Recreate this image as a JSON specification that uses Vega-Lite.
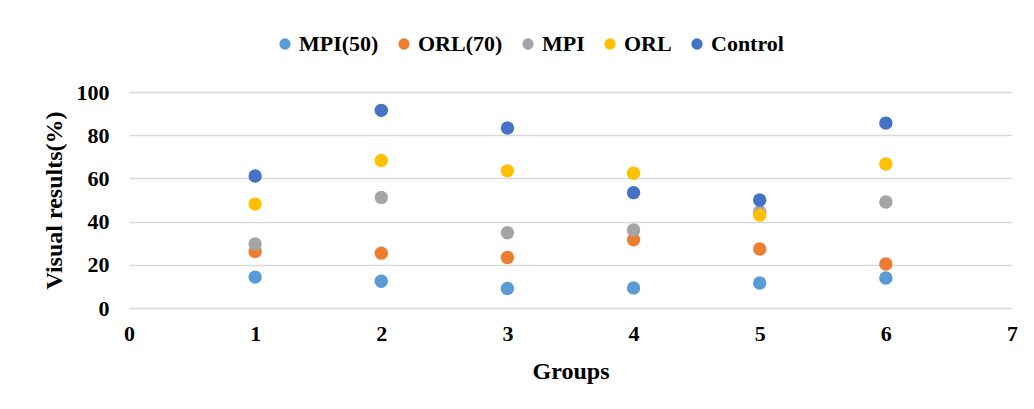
{
  "$schema": "https://vega.github.io/schema/vega-lite/v6.json",
  "width": 883,
  "height": 216,
  "autosize": {"type": "none"},
  "padding": {"left": 129, "top": 92, "right": 22, "bottom": 101},
  "background": "white",
  "config": {
    "font": "Liberation Serif",
    "view": {"stroke": null},
    "axis": {
      "labelFont": "Liberation Serif",
      "labelFontWeight": "bold",
      "labelFontSize": 22,
      "labelColor": "#000000",
      "titleFont": "Liberation Serif",
      "titleFontWeight": "bold",
      "titleFontSize": 24,
      "titleColor": "#000000",
      "ticks": false,
      "domain": false
    },
    "legend": {
      "labelFont": "Liberation Serif",
      "labelFontWeight": "bold",
      "labelFontSize": 22,
      "labelColor": "#000000"
    }
  },
  "data": {
    "values": [
      {"group": 1, "series": "MPI(50)", "value": 14.3},
      {"group": 2, "series": "MPI(50)", "value": 12.4},
      {"group": 3, "series": "MPI(50)", "value": 9.0},
      {"group": 4, "series": "MPI(50)", "value": 9.3},
      {"group": 5, "series": "MPI(50)", "value": 11.6},
      {"group": 6, "series": "MPI(50)", "value": 13.9},
      {"group": 1, "series": "ORL(70)", "value": 26.2},
      {"group": 2, "series": "ORL(70)", "value": 25.4},
      {"group": 3, "series": "ORL(70)", "value": 23.4},
      {"group": 4, "series": "ORL(70)", "value": 31.6},
      {"group": 5, "series": "ORL(70)", "value": 27.3},
      {"group": 6, "series": "ORL(70)", "value": 20.4},
      {"group": 1, "series": "MPI", "value": 29.6},
      {"group": 2, "series": "MPI", "value": 51.2},
      {"group": 3, "series": "MPI", "value": 34.8},
      {"group": 4, "series": "MPI", "value": 36.1},
      {"group": 5, "series": "MPI", "value": 44.6},
      {"group": 6, "series": "MPI", "value": 49.1},
      {"group": 1, "series": "ORL", "value": 48.1},
      {"group": 2, "series": "ORL", "value": 68.3},
      {"group": 3, "series": "ORL", "value": 63.5},
      {"group": 4, "series": "ORL", "value": 62.4},
      {"group": 5, "series": "ORL", "value": 43.0},
      {"group": 6, "series": "ORL", "value": 66.7},
      {"group": 1, "series": "Control", "value": 61.1},
      {"group": 2, "series": "Control", "value": 91.5},
      {"group": 3, "series": "Control", "value": 83.3},
      {"group": 4, "series": "Control", "value": 53.4},
      {"group": 5, "series": "Control", "value": 50.0},
      {"group": 6, "series": "Control", "value": 85.6}
    ]
  },
  "mark": {"type": "circle", "size": 180, "opacity": 1},
  "encoding": {
    "x": {
      "field": "group",
      "type": "quantitative",
      "title": "Groups",
      "scale": {"domain": [0, 7], "nice": false},
      "axis": {
        "values": [0, 1, 2, 3, 4, 5, 6, 7],
        "format": "d",
        "grid": false,
        "labelPadding": 15,
        "titlePadding": 15,
        "labelFlush": false
      }
    },
    "y": {
      "field": "value",
      "type": "quantitative",
      "title": "Visual results(%)",
      "scale": {"domain": [0, 100], "nice": false},
      "axis": {
        "values": [0, 20, 40, 60, 80, 100],
        "grid": true,
        "gridColor": "#D9D9D9",
        "gridWidth": 1.6,
        "labelPadding": 20,
        "titlePadding": 10
      }
    },
    "color": {
      "field": "series",
      "type": "nominal",
      "scale": {
        "domain": ["MPI(50)", "ORL(70)", "MPI", "ORL", "Control"],
        "range": ["#5B9BD5", "#ED7D31", "#A5A5A5", "#FFC000", "#4472C4"]
      },
      "legend": {
        "title": null,
        "orient": "none",
        "direction": "horizontal",
        "legendX": 145,
        "legendY": -59,
        "symbolType": "circle",
        "symbolSize": 128,
        "symbolStrokeWidth": 0,
        "symbolOpacity": 1,
        "labelOffset": 3,
        "columnPadding": 14
      }
    }
  }
}
